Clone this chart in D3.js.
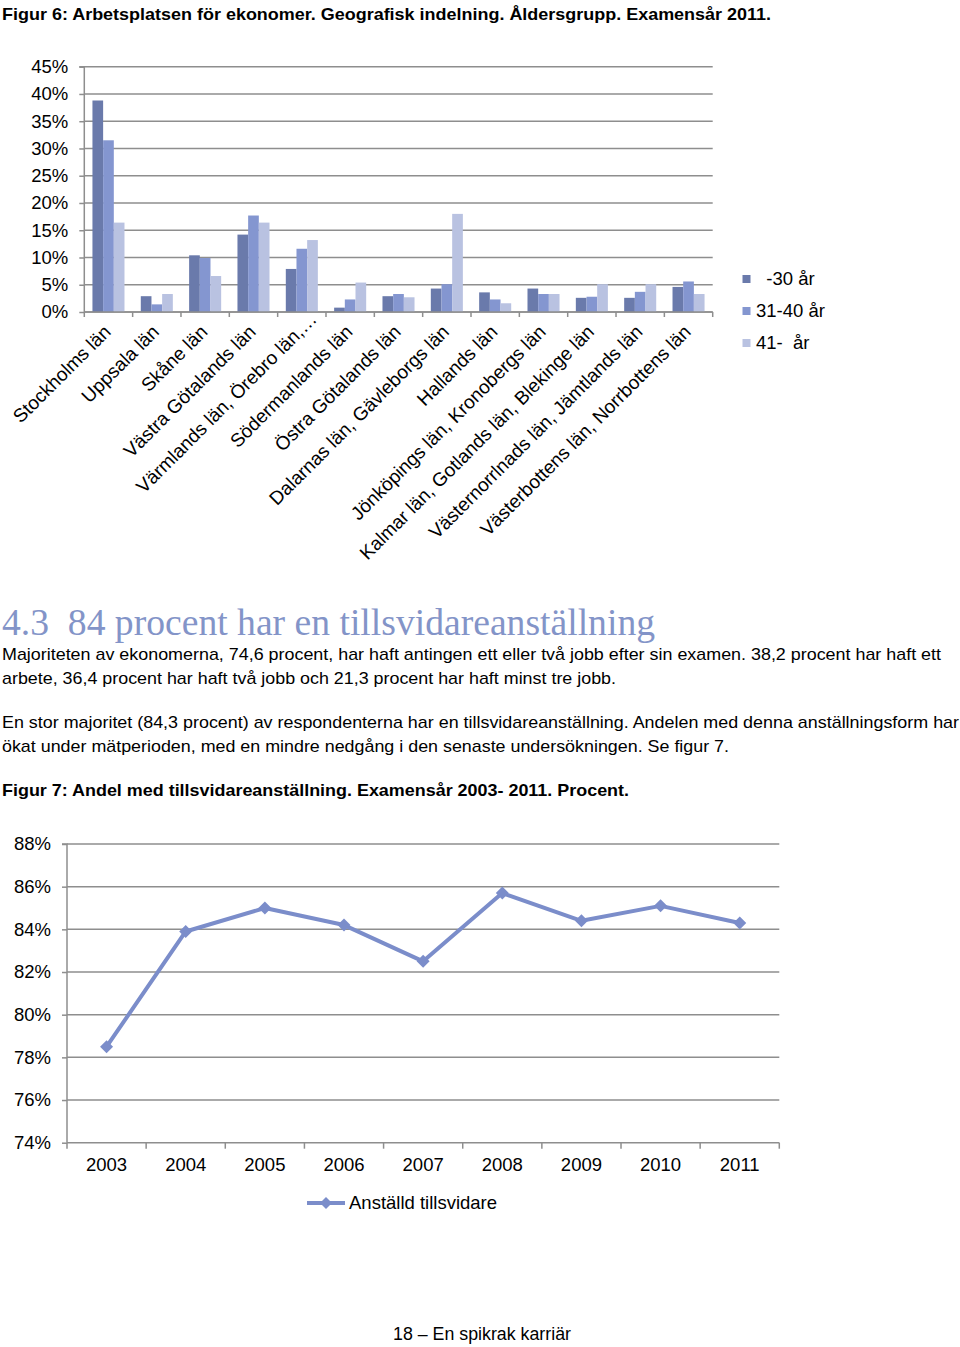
<!DOCTYPE html>
<html>
<head>
<meta charset="utf-8">
<script src="https://cdnjs.cloudflare.com/ajax/libs/d3/7.8.5/d3.min.js"></script>
<style>
  html, body { margin: 0; padding: 0; background: #fff; }
  svg { display: block; }
  text { font-family: "Liberation Sans", Arial, Helvetica, sans-serif; fill: #000; }
</style>
</head>
<body>
<svg id="page" width="960" height="1347"></svg>
<script>
// ---------- Figur 6 data ----------
const regions = [
  "Stockholms län", "Uppsala län", "Skåne län", "Västra Götalands län",
  "Värmlands län, Örebro län,…", "Södermanlands län", "Östra Götalands län",
  "Dalarnas län, Gävleborgs län", "Hallands län", "Jönköpings län, Kronobergs län",
  "Kalmar län, Gotlands län, Blekinge län", "Västernorrlnads län, Jämtlands län",
  "Västerbottens län, Norrbottens län"
];
const seriesNames = ["  -30 år", "31-40 år", "41-  år"];
const ageUnder30 = [38.8, 2.9, 10.4, 14.2, 7.9, 0.8, 2.9, 4.3, 3.6, 4.3, 2.6, 2.6, 4.6];
const age31to40  = [31.5, 1.4, 9.9, 17.7, 11.6, 2.3, 3.3, 5.1, 2.3, 3.3, 2.8, 3.7, 5.6];
const age41plus  = [16.4, 3.3, 6.6, 16.4, 13.2, 5.4, 2.7, 18.0, 1.6, 3.3, 5.1, 5.1, 3.3];
const barTicks = [0, 5, 10, 15, 20, 25, 30, 35, 40, 45];

// ---------- Figur 7 data ----------
const years = ["2003", "2004", "2005", "2006", "2007", "2008", "2009", "2010", "2011"];
const tillsvidare = [78.5, 83.9, 85.0, 84.2, 82.5, 85.7, 84.4, 85.1, 84.3];
const lineTicks = [74, 76, 78, 80, 82, 84, 86, 88];
const lineSeriesName = "Anställd tillsvidare";

// ---------- texts ----------
const fig6Title = "Figur 6: Arbetsplatsen för ekonomer. Geografisk indelning. Åldersgrupp. Examensår 2011.";
const heading = "4.3  84 procent har en tillsvidareanställning";
const para1 = [
  "Majoriteten av ekonomerna, 74,6 procent, har haft antingen ett eller två jobb efter sin examen. 38,2 procent har haft ett",
  "arbete, 36,4 procent har haft två jobb och 21,3 procent har haft minst tre jobb."
];
const para2 = [
  "En stor majoritet (84,3 procent) av respondenterna har en tillsvidareanställning. Andelen med denna anställningsform har",
  "ökat under mätperioden, med en mindre nedgång i den senaste undersökningen. Se figur 7."
];
const fig7Title = "Figur 7: Andel med tillsvidareanställning. Examensår 2003- 2011. Procent.";
const footer = "18 – En spikrak karriär";

const svg = d3.select("#page");
svg.append("rect").attr("width", 960).attr("height", 1347).attr("fill", "#fff");

const gridColor = "#8e8e8e";
const barColors = ["#6a7aab", "#8496d0", "#b9c2e1"];
const lineColor = "#7b8dca";

// helper for fitted text
function fitText(sel, txt, x, y, width, opts) {
  const t = sel.append("text").attr("x", x).attr("y", y).text(txt)
    .attr("font-size", opts.size)
    .attr("xml:space", "preserve")
    .style("white-space", "pre");
  if (opts.weight) t.attr("font-weight", opts.weight);
  if (opts.family) t.style("font-family", opts.family);
  if (opts.fill) t.style("fill", opts.fill);
  if (width) t.attr("textLength", width).attr("lengthAdjust", "spacingAndGlyphs");
  return t;
}

// ---------- page texts ----------
fitText(svg, fig6Title, 2, 20, 769, {size: 17, weight: "bold"});
fitText(svg, heading, 2, 635, 653, {size: 38, family: "'Liberation Serif', 'Times New Roman', serif", fill: "#8394c8"});
fitText(svg, para1[0], 2, 660, 939, {size: 17});
fitText(svg, para1[1], 2, 684, 614, {size: 17});
fitText(svg, para2[0], 2, 728, 957, {size: 17});
fitText(svg, para2[1], 2, 752, 727, {size: 17});
fitText(svg, fig7Title, 2, 796, 627, {size: 17, weight: "bold"});
fitText(svg, footer, 393, 1340, 178, {size: 17.5});

// ---------- Figur 6: grouped bar chart ----------
(function () {
  const left = 84.3, right = 712.7, top = 66.7, bottom = 312;
  const x0 = d3.scaleBand().domain(regions).range([left, right]).paddingInner(0).paddingOuter(0);
  const bw = x0.bandwidth();
  const x1 = d3.scaleBand().domain(seriesNames).range([8.15, bw - 8.15]).padding(0);
  const y = d3.scaleLinear().domain([0, 45]).range([bottom, top]);
  const g = svg.append("g");

  // gridlines
  g.selectAll("line.grid").data(barTicks).join("line")
    .attr("x1", left).attr("x2", right)
    .attr("y1", d => y(d)).attr("y2", d => y(d))
    .attr("stroke", gridColor).attr("stroke-width", 1.5);

  // y axis
  const yAxis = d3.axisLeft(y).tickValues(barTicks).tickFormat(d => d + "%").tickSize(5).tickPadding(11);
  const ya = g.append("g").attr("transform", `translate(${left},0)`).call(yAxis);
  ya.select(".domain").attr("stroke", gridColor).attr("stroke-width", 1.5).attr("d", `M-5,${top}H0V${bottom}`);
  ya.selectAll(".tick line").attr("stroke", gridColor).attr("stroke-width", 1.5);
  ya.selectAll(".tick text").attr("font-size", 18.5).attr("font-family", "'Liberation Sans', Arial, sans-serif").attr("fill", "#000");

  // bars
  const series = [ageUnder30, age31to40, age41plus];
  regions.forEach((r, i) => {
    series.forEach((s, k) => {
      g.append("rect")
        .attr("x", x0(r) + x1(seriesNames[k]))
        .attr("width", x1.bandwidth())
        .attr("y", y(s[i]))
        .attr("height", y(0) - y(s[i]))
        .attr("fill", barColors[k]);
    });
  });

  // x baseline and boundary ticks
  g.append("line").attr("x1", left).attr("x2", right).attr("y1", y(0)).attr("y2", y(0))
    .attr("stroke", gridColor).attr("stroke-width", 1.5);
  const bounds = d3.range(regions.length + 1).map(i => left + i * bw);
  g.selectAll("line.xt").data(bounds).join("line")
    .attr("x1", d => d).attr("x2", d => d).attr("y1", y(0)).attr("y2", y(0) + 5)
    .attr("stroke", gridColor).attr("stroke-width", 1.5);

  // rotated category labels
  regions.forEach(r => {
    const cx = x0(r) + bw / 2 + 3.5;
    const extra = r.endsWith("…") ? 18 : 0;
    g.append("text")
      .attr("transform", `translate(${cx},333) rotate(-45)`)
      .attr("x", extra)
      .attr("text-anchor", "end")
      .attr("font-size", 19)
      .text(r);
  });

  // legend
  const lg = g.append("g");
  seriesNames.forEach((n, k) => {
    const ly = 279 + k * 32;
    lg.append("rect").attr("x", 742.5).attr("y", ly - 4).attr("width", 8).attr("height", 8).attr("fill", barColors[k]);
    lg.append("text").attr("x", 756).attr("y", ly).attr("dy", "0.35em").attr("font-size", 18.5)
      .attr("xml:space", "preserve").style("white-space", "pre").text(n);
  });
})();

// ---------- Figur 7: line chart ----------
(function () {
  const left = 67, right = 779.3, top = 844, bottom = 1142.7;
  const x = d3.scaleBand().domain(years).range([left, right]).padding(0);
  const bw = x.bandwidth();
  const y = d3.scaleLinear().domain([74, 88]).range([bottom, top]);
  const g = svg.append("g");

  g.selectAll("line.grid").data(lineTicks).join("line")
    .attr("x1", left).attr("x2", right)
    .attr("y1", d => y(d)).attr("y2", d => y(d))
    .attr("stroke", gridColor).attr("stroke-width", 1.5);

  const yAxis = d3.axisLeft(y).tickValues(lineTicks).tickFormat(d => d + "%").tickSize(5).tickPadding(11);
  const ya = g.append("g").attr("transform", `translate(${left},0)`).call(yAxis);
  ya.select(".domain").attr("stroke", gridColor).attr("stroke-width", 1.5).attr("d", `M-5,${top}H0V${bottom}`);
  ya.selectAll(".tick line").attr("stroke", gridColor).attr("stroke-width", 1.5);
  ya.selectAll(".tick text").attr("font-size", 18.5).attr("font-family", "'Liberation Sans', Arial, sans-serif").attr("fill", "#000");

  const bounds = d3.range(years.length + 1).map(i => left + i * bw);
  g.selectAll("line.xt").data(bounds).join("line")
    .attr("x1", d => d).attr("x2", d => d).attr("y1", bottom).attr("y2", bottom + 6)
    .attr("stroke", gridColor).attr("stroke-width", 1.5);

  g.selectAll("text.xl").data(years).join("text")
    .attr("x", d => x(d) + bw / 2).attr("y", 1171).attr("text-anchor", "middle")
    .attr("font-size", 18.5).text(d => d);

  const pts = years.map((yr, i) => [x(yr) + bw / 2, y(tillsvidare[i])]);
  g.append("path").attr("d", d3.line()(pts)).attr("fill", "none")
    .attr("stroke", lineColor).attr("stroke-width", 4).attr("stroke-linejoin", "round");
  const diamond = (cx, cy, r) => `M${cx},${cy - r}L${cx + r},${cy}L${cx},${cy + r}L${cx - r},${cy}Z`;
  pts.forEach(p => g.append("path").attr("d", diamond(p[0], p[1], 6.5)).attr("fill", lineColor));

  // legend
  g.append("line").attr("x1", 307).attr("x2", 345).attr("y1", 1203).attr("y2", 1203)
    .attr("stroke", lineColor).attr("stroke-width", 4);
  g.append("path").attr("d", diamond(326, 1203, 6)).attr("fill", lineColor);
  g.append("text").attr("x", 349).attr("y", 1203).attr("dy", "0.35em").attr("font-size", 18.5).text(lineSeriesName);
})();
</script>
</body>
</html>
